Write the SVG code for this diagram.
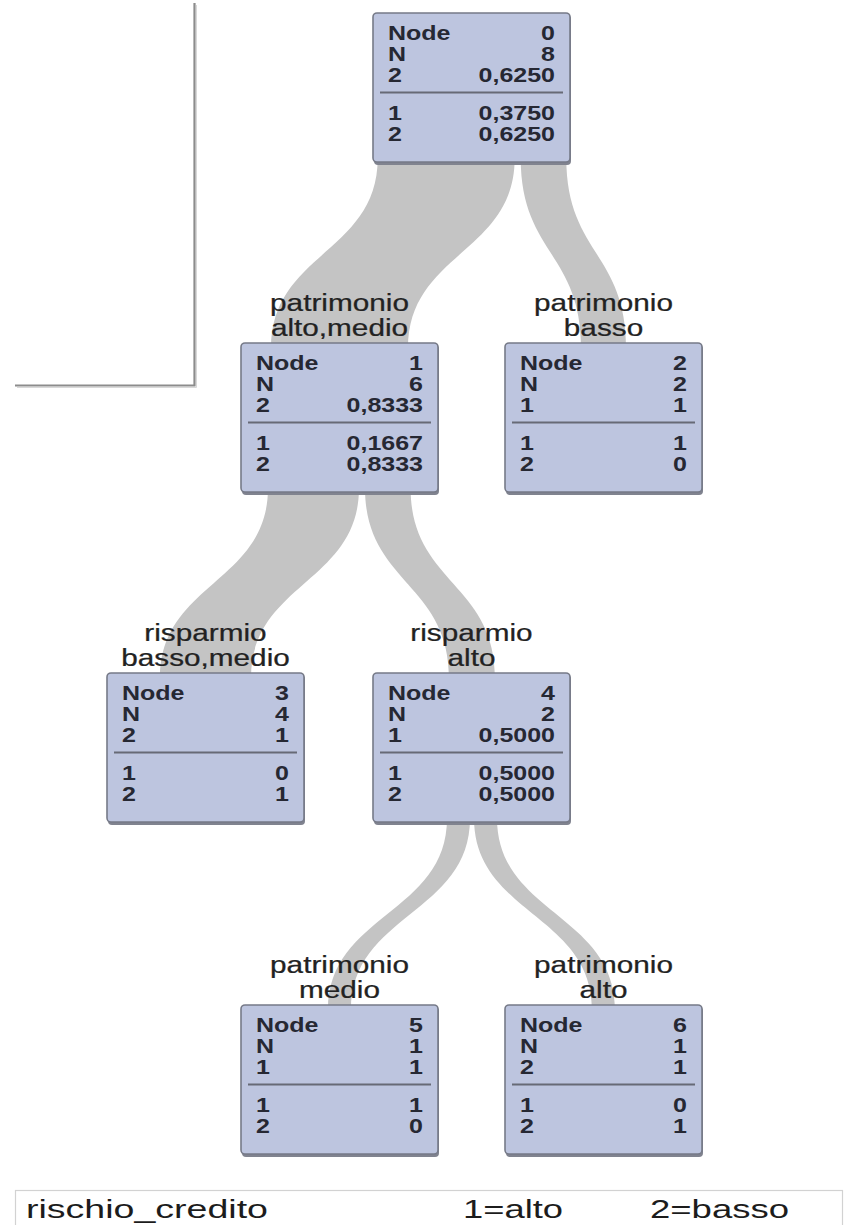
<svg xmlns="http://www.w3.org/2000/svg" width="846" height="1225" viewBox="0 0 846 1225">
<defs>
<style>
.box{fill:#bdc5df;stroke:#767a88;stroke-width:1.6}
.shd{fill:#80838f}
.sep{stroke:#676a76;stroke-width:1.8}
.nt{font-family:"Liberation Sans",Arial,sans-serif;font-size:20px;font-weight:bold;fill:#262833}
.r{text-anchor:end}
.lb{font-family:"Liberation Sans",Arial,sans-serif;font-size:24px;fill:#222222;stroke:#222222;stroke-width:0.25;text-anchor:middle}
.band{fill:#c4c4c4}
.lg{font-family:"Liberation Sans",Arial,sans-serif;font-size:25px;fill:#1c1c1c}
</style>
</defs>
<rect width="846" height="1225" fill="#ffffff"/>
<g id="frame">
<polyline points="194.5,3 194.5,385.5 15,385.5" fill="none" stroke="#8c8c8c" stroke-width="2.2"/>
<polyline points="196.5,5 196.5,387.5 17,387.5" fill="none" stroke="#d8d8d8" stroke-width="1"/>
</g>
<g id="connectors">
<path class="band" d="M377.7,158 C377.7,253 271,253 271,348 L408,348 C408,253 514.7,253 514.7,158 Z"/>
<path class="band" d="M520.7,158 C520.7,253 581,253 581,348 L626,348 C626,253 566.3,253 566.3,158 Z"/>
<path class="band" d="M268,488 C268,583 160,583 160,678 L251,678 C251,583 359,583 359,488 Z"/>
<path class="band" d="M365,488 C365,583 449,583 449,678 L495,678 C495,583 410.6,583 410.6,488 Z"/>
<path class="band" d="M447,818 C447,914 328,914 328,1010 L351,1010 C351,914 470,914 470,818 Z"/>
<path class="band" d="M474,818 C474,914 592,914 592,1010 L615,1010 C615,914 497,914 497,818 Z"/>
</g>
<g id="node0">
<rect class="shd" x="374" y="15" width="197" height="150" rx="4"/>
<rect class="box" x="373" y="13" width="197" height="149" rx="4"/>
<line class="sep" x1="380" y1="92.5" x2="563" y2="92.5"/>
<text class="nt" transform="translate(388,39.5) scale(1.25,1)">Node</text>
<text class="nt r" transform="translate(555,39.5) scale(1.25,1)">0</text>
<text class="nt" transform="translate(388,60.5) scale(1.25,1)">N</text>
<text class="nt r" transform="translate(555,60.5) scale(1.25,1)">8</text>
<text class="nt" transform="translate(388,81.5) scale(1.25,1)">2</text>
<text class="nt r" transform="translate(555,81.5) scale(1.25,1)">0,6250</text>
<text class="nt" transform="translate(388,120) scale(1.25,1)">1</text>
<text class="nt r" transform="translate(555,120) scale(1.25,1)">0,3750</text>
<text class="nt" transform="translate(388,141) scale(1.25,1)">2</text>
<text class="nt r" transform="translate(555,141) scale(1.25,1)">0,6250</text>
</g>
<g id="node1">
<text class="lb" transform="translate(339.5,311) scale(1.24,1)">patrimonio</text>
<text class="lb" transform="translate(339.5,336) scale(1.24,1)">alto,medio</text>
<rect class="shd" x="242" y="345" width="197" height="150" rx="4"/>
<rect class="box" x="241" y="343" width="197" height="149" rx="4"/>
<line class="sep" x1="248" y1="422.5" x2="431" y2="422.5"/>
<text class="nt" transform="translate(256,369.5) scale(1.25,1)">Node</text>
<text class="nt r" transform="translate(423,369.5) scale(1.25,1)">1</text>
<text class="nt" transform="translate(256,390.5) scale(1.25,1)">N</text>
<text class="nt r" transform="translate(423,390.5) scale(1.25,1)">6</text>
<text class="nt" transform="translate(256,411.5) scale(1.25,1)">2</text>
<text class="nt r" transform="translate(423,411.5) scale(1.25,1)">0,8333</text>
<text class="nt" transform="translate(256,450) scale(1.25,1)">1</text>
<text class="nt r" transform="translate(423,450) scale(1.25,1)">0,1667</text>
<text class="nt" transform="translate(256,471) scale(1.25,1)">2</text>
<text class="nt r" transform="translate(423,471) scale(1.25,1)">0,8333</text>
</g>
<g id="node2">
<text class="lb" transform="translate(603.5,311) scale(1.24,1)">patrimonio</text>
<text class="lb" transform="translate(603.5,336) scale(1.24,1)">basso</text>
<rect class="shd" x="506" y="345" width="197" height="150" rx="4"/>
<rect class="box" x="505" y="343" width="197" height="149" rx="4"/>
<line class="sep" x1="512" y1="422.5" x2="695" y2="422.5"/>
<text class="nt" transform="translate(520,369.5) scale(1.25,1)">Node</text>
<text class="nt r" transform="translate(687,369.5) scale(1.25,1)">2</text>
<text class="nt" transform="translate(520,390.5) scale(1.25,1)">N</text>
<text class="nt r" transform="translate(687,390.5) scale(1.25,1)">2</text>
<text class="nt" transform="translate(520,411.5) scale(1.25,1)">1</text>
<text class="nt r" transform="translate(687,411.5) scale(1.25,1)">1</text>
<text class="nt" transform="translate(520,450) scale(1.25,1)">1</text>
<text class="nt r" transform="translate(687,450) scale(1.25,1)">1</text>
<text class="nt" transform="translate(520,471) scale(1.25,1)">2</text>
<text class="nt r" transform="translate(687,471) scale(1.25,1)">0</text>
</g>
<g id="node3">
<text class="lb" transform="translate(205.5,641) scale(1.24,1)">risparmio</text>
<text class="lb" transform="translate(205.5,666) scale(1.24,1)">basso,medio</text>
<rect class="shd" x="108" y="675" width="197" height="150" rx="4"/>
<rect class="box" x="107" y="673" width="197" height="149" rx="4"/>
<line class="sep" x1="114" y1="752.5" x2="297" y2="752.5"/>
<text class="nt" transform="translate(122,699.5) scale(1.25,1)">Node</text>
<text class="nt r" transform="translate(289,699.5) scale(1.25,1)">3</text>
<text class="nt" transform="translate(122,720.5) scale(1.25,1)">N</text>
<text class="nt r" transform="translate(289,720.5) scale(1.25,1)">4</text>
<text class="nt" transform="translate(122,741.5) scale(1.25,1)">2</text>
<text class="nt r" transform="translate(289,741.5) scale(1.25,1)">1</text>
<text class="nt" transform="translate(122,780) scale(1.25,1)">1</text>
<text class="nt r" transform="translate(289,780) scale(1.25,1)">0</text>
<text class="nt" transform="translate(122,801) scale(1.25,1)">2</text>
<text class="nt r" transform="translate(289,801) scale(1.25,1)">1</text>
</g>
<g id="node4">
<text class="lb" transform="translate(471.5,641) scale(1.24,1)">risparmio</text>
<text class="lb" transform="translate(471.5,666) scale(1.24,1)">alto</text>
<rect class="shd" x="374" y="675" width="197" height="150" rx="4"/>
<rect class="box" x="373" y="673" width="197" height="149" rx="4"/>
<line class="sep" x1="380" y1="752.5" x2="563" y2="752.5"/>
<text class="nt" transform="translate(388,699.5) scale(1.25,1)">Node</text>
<text class="nt r" transform="translate(555,699.5) scale(1.25,1)">4</text>
<text class="nt" transform="translate(388,720.5) scale(1.25,1)">N</text>
<text class="nt r" transform="translate(555,720.5) scale(1.25,1)">2</text>
<text class="nt" transform="translate(388,741.5) scale(1.25,1)">1</text>
<text class="nt r" transform="translate(555,741.5) scale(1.25,1)">0,5000</text>
<text class="nt" transform="translate(388,780) scale(1.25,1)">1</text>
<text class="nt r" transform="translate(555,780) scale(1.25,1)">0,5000</text>
<text class="nt" transform="translate(388,801) scale(1.25,1)">2</text>
<text class="nt r" transform="translate(555,801) scale(1.25,1)">0,5000</text>
</g>
<g id="node5">
<text class="lb" transform="translate(339.5,973) scale(1.24,1)">patrimonio</text>
<text class="lb" transform="translate(339.5,998) scale(1.24,1)">medio</text>
<rect class="shd" x="242" y="1007" width="197" height="150" rx="4"/>
<rect class="box" x="241" y="1005" width="197" height="149" rx="4"/>
<line class="sep" x1="248" y1="1084.5" x2="431" y2="1084.5"/>
<text class="nt" transform="translate(256,1031.5) scale(1.25,1)">Node</text>
<text class="nt r" transform="translate(423,1031.5) scale(1.25,1)">5</text>
<text class="nt" transform="translate(256,1052.5) scale(1.25,1)">N</text>
<text class="nt r" transform="translate(423,1052.5) scale(1.25,1)">1</text>
<text class="nt" transform="translate(256,1073.5) scale(1.25,1)">1</text>
<text class="nt r" transform="translate(423,1073.5) scale(1.25,1)">1</text>
<text class="nt" transform="translate(256,1112) scale(1.25,1)">1</text>
<text class="nt r" transform="translate(423,1112) scale(1.25,1)">1</text>
<text class="nt" transform="translate(256,1133) scale(1.25,1)">2</text>
<text class="nt r" transform="translate(423,1133) scale(1.25,1)">0</text>
</g>
<g id="node6">
<text class="lb" transform="translate(603.5,973) scale(1.24,1)">patrimonio</text>
<text class="lb" transform="translate(603.5,998) scale(1.24,1)">alto</text>
<rect class="shd" x="506" y="1007" width="197" height="150" rx="4"/>
<rect class="box" x="505" y="1005" width="197" height="149" rx="4"/>
<line class="sep" x1="512" y1="1084.5" x2="695" y2="1084.5"/>
<text class="nt" transform="translate(520,1031.5) scale(1.25,1)">Node</text>
<text class="nt r" transform="translate(687,1031.5) scale(1.25,1)">6</text>
<text class="nt" transform="translate(520,1052.5) scale(1.25,1)">N</text>
<text class="nt r" transform="translate(687,1052.5) scale(1.25,1)">1</text>
<text class="nt" transform="translate(520,1073.5) scale(1.25,1)">2</text>
<text class="nt r" transform="translate(687,1073.5) scale(1.25,1)">1</text>
<text class="nt" transform="translate(520,1112) scale(1.25,1)">1</text>
<text class="nt r" transform="translate(687,1112) scale(1.25,1)">0</text>
<text class="nt" transform="translate(520,1133) scale(1.25,1)">2</text>
<text class="nt r" transform="translate(687,1133) scale(1.25,1)">1</text>
</g>
<g id="legend">
<rect x="15.5" y="1190.5" width="827" height="60" fill="none" stroke="#d2d2d2" stroke-width="1.2"/>
<text class="lg" x="26" y="1218" textLength="242" lengthAdjust="spacingAndGlyphs">rischio_credito</text>
<text class="lg" x="463" y="1218" textLength="100" lengthAdjust="spacingAndGlyphs">1=alto</text>
<text class="lg" x="650" y="1218" textLength="139" lengthAdjust="spacingAndGlyphs">2=basso</text>
</g>
</svg>
